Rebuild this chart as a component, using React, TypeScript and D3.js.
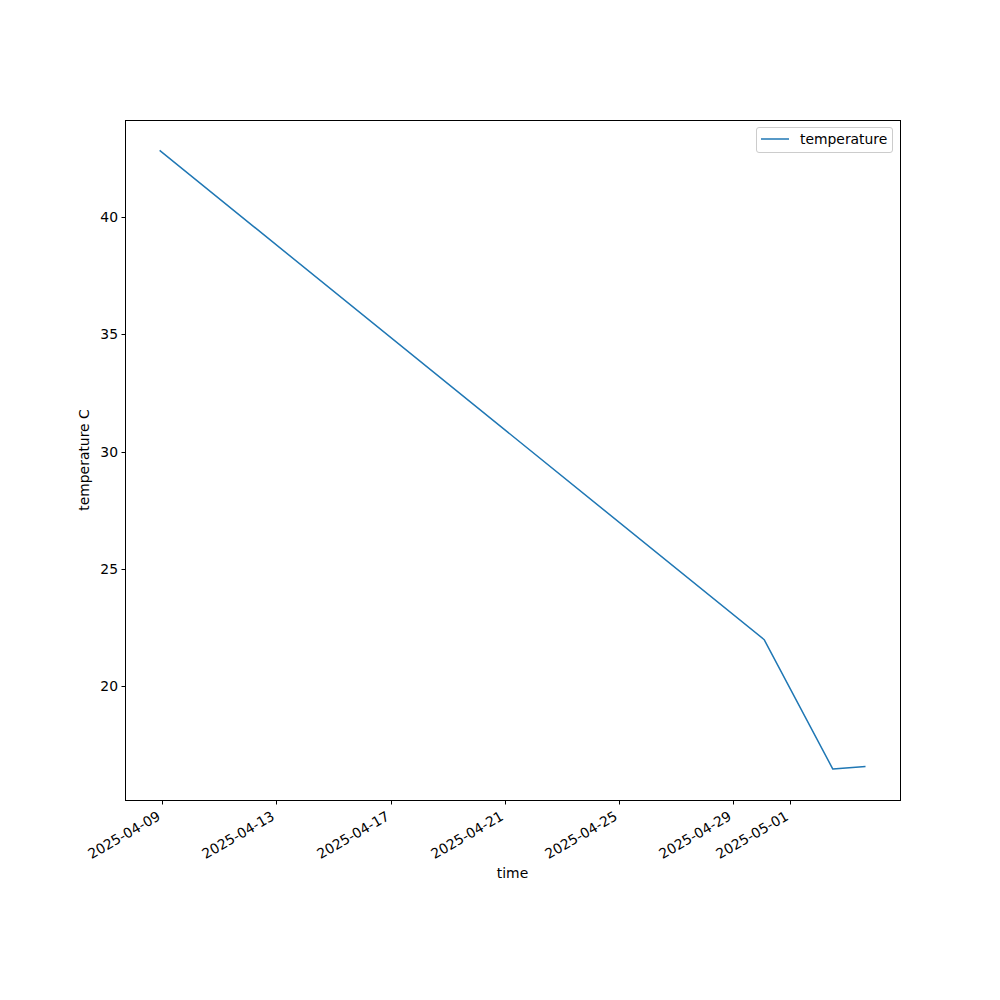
import React, { useRef, useEffect } from 'react';
import * as d3 from 'd3';

// readings taken off the chart
const times = ['2025-04-08T22:30', '2025-04-30T02:00', '2025-05-02T11:35', '2025-05-03T14:25'];
const temperature = [42.81, 21.98, 16.47, 16.58];
const xTickLabels = ['2025-04-09', '2025-04-13', '2025-04-17', '2025-04-21', '2025-04-25', '2025-04-29', '2025-05-01'];
const yTicks = [20, 25, 30, 35, 40];
const seriesName = 'temperature';

export default function App() {
  const svgRef = useRef<SVGSVGElement>(null);

  useEffect(() => {
    const svg = d3.select(svgRef.current);
    svg.selectAll('*').remove();

    const W = 1000, H = 1000;
    const left = 125, right = 900, top = 120, bottom = 800;
    const font = 'DejaVu Sans, sans-serif';
    const color = '#1f77b4';

    const parse = d3.timeParse('%Y-%m-%dT%H:%M');
    const dates = times.map(t => parse(t) as Date);
    const data = dates.map((d, i) => ({ d, v: temperature[i] }));

    // 5% margins, matplotlib style
    const [x0, x1] = d3.extent(dates) as [Date, Date];
    const xp = (+x1 - +x0) * 0.05;
    const x = d3.scaleTime().domain([new Date(+x0 - xp), new Date(+x1 + xp)]).range([left, right]);
    const [y0, y1] = d3.extent(temperature) as [number, number];
    const yp = (y1 - y0) * 0.05;
    const y = d3.scaleLinear().domain([y0 - yp, y1 + yp]).range([bottom, top]);

    svg.attr('width', W).attr('height', H);
    svg.append('rect').attr('width', W).attr('height', H).attr('fill', 'white');

    const myLine = d3.line<{ d: Date; v: number }>()
      .x(p => x(p.d))
      .y(p => y(p.v));

    svg.append('path')
      .datum(data)
      .attr('d', myLine)
      .attr('fill', 'none')
      .attr('stroke', color)
      .attr('stroke-width', 1.5)
      .attr('stroke-linejoin', 'round')
      .attr('stroke-linecap', 'square');

    // frame
    svg.append('rect')
      .attr('x', left + 0.5).attr('y', top + 0.5)
      .attr('width', right - left).attr('height', bottom - top)
      .attr('fill', 'none').attr('stroke', 'black').attr('stroke-width', 1);

    // x axis
    const parseDay = d3.timeParse('%Y-%m-%d');
    const xg = svg.append('g').attr('transform', `translate(0,${bottom})`);
    xTickLabels.forEach(lbl => {
      const px = Math.round(x(parseDay(lbl) as Date)) + 0.5;
      xg.append('line').attr('x1', px).attr('x2', px).attr('y1', 0.5).attr('y2', 4.5)
        .attr('stroke', 'black').attr('stroke-width', 1);
      xg.append('text')
        .attr('transform', `translate(${px - 1},${19}) rotate(-30)`)
        .attr('text-anchor', 'end')
        .attr('font-family', font).attr('font-size', 13.9)
        .text(lbl);
    });

    // y axis
    const yg = svg.append('g').attr('transform', `translate(${left},0)`);
    yTicks.forEach(t => {
      const py = Math.round(y(t)) + 0.5;
      yg.append('line').attr('x1', -3.5).attr('x2', 0.5).attr('y1', py).attr('y2', py)
        .attr('stroke', 'black').attr('stroke-width', 1);
      yg.append('text')
        .attr('x', -7).attr('y', py).attr('dy', '0.35em')
        .attr('text-anchor', 'end')
        .attr('font-family', font).attr('font-size', 13.9)
        .text(t);
    });

    // axis labels
    svg.append('text')
      .attr('x', (left + right) / 2).attr('y', 878)
      .attr('text-anchor', 'middle')
      .attr('font-family', font).attr('font-size', 13.9)
      .text('time');
    svg.append('text')
      .attr('transform', `translate(89,${(top + bottom) / 2}) rotate(-90)`)
      .attr('text-anchor', 'middle')
      .attr('font-family', font).attr('font-size', 13.9)
      .text('temperature C');

    // legend
    const lg = svg.append('g');
    lg.append('rect')
      .attr('x', 756.5).attr('y', 127.5).attr('width', 136).attr('height', 25)
      .attr('rx', 2.5)
      .attr('fill', 'white').attr('stroke', '#cccccc').attr('stroke-width', 1);
    lg.append('line')
      .attr('x1', 761).attr('x2', 789).attr('y1', 139).attr('y2', 139)
      .attr('stroke', color).attr('stroke-width', 1.5);
    lg.append('text')
      .attr('x', 800).attr('y', 139).attr('dy', '0.35em')
      .attr('font-family', font).attr('font-size', 13.9)
      .text(seriesName);
  }, []);

  return (
    <div>
      <svg ref={svgRef} style={{ display: 'block', position: 'absolute', left: 0, top: 0 }}></svg>
    </div>
  );
}
